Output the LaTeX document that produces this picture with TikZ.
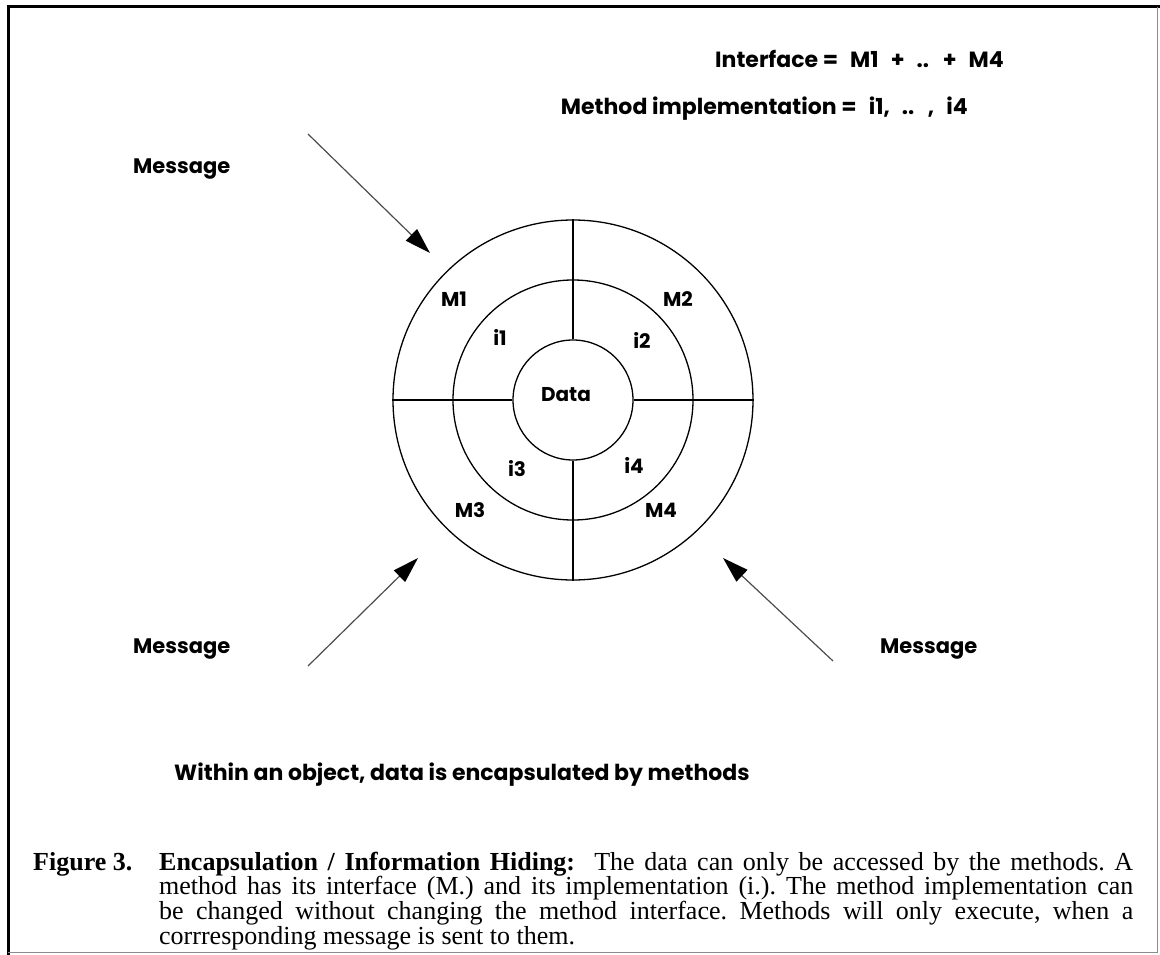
\documentclass[tikz,border=0pt]{standalone}
\usepackage{fontspec}
\setmainfont{Liberation Serif}
\newfontfamily\plotfont{Poppins}
\newcommand\widespaces{\spaceskip=0.55em\relax}
\usetikzlibrary{arrows.meta}
\tikzset{
  ring/.style={draw, circle, inner sep=0pt, line width=1.3pt},
  spoke/.style={line width=1.3pt},
  msgarrow/.style={draw=black!70, line width=1.2pt,
    -{Triangle[length=26pt,width=16pt,color=black]}},
  lbl/.style={font=\plotfont\bfseries\fontsize{21}{24}\selectfont, inner sep=0pt},
  legend/.style={font=\plotfont\bfseries\fontsize{22}{24}\selectfont, inner sep=0pt},
  seg/.style={font=\plotfont\bfseries\fontsize{20}{22}\selectfont, inner sep=0pt, anchor=base},
  captext/.style={inner sep=0pt, font=\fontsize{26}{24.8}\selectfont\frenchspacing},
}
\begin{document}
\begin{tikzpicture}[x=1pt,y=-1pt]
  \useasboundingbox (0,0) rectangle (1160,955);
  % page frame
  \draw[line width=3pt] (8,955) -- (8,7) -- (1160,7);
  \draw[black!45, line width=1pt] (1157,7) -- (1157,952) -- (8,952);

  % object: data, implementations, interfaces
  \node[ring, minimum size=360pt] (outer) at (573,400) {};
  \node[ring, minimum size=240pt] (middle) at (573,400) {};
  \node[ring, minimum size=120pt] (inner) at (573,400) {};
  \draw[spoke] (inner.north) -- (outer.north);
  \draw[spoke] (inner.south) -- (outer.south);
  \draw[spoke] (inner.west) -- (outer.west);
  \draw[spoke] (inner.east) -- (outer.east);

  \node[seg] (data) at (566,401) {Data};
  \node[seg] (m1) at (454,306) {M1};
  \node[seg] (m2) at (678,306) {M2};
  \node[seg] (i1) at (500,345) {i1};
  \node[seg] (i2) at (642,348) {i2};
  \node[seg] (i3) at (517,476) {i3};
  \node[seg] (i4) at (634,473) {i4};
  \node[seg] (m3) at (470,517) {M3};
  \node[seg] (m4) at (661,517) {M4};

  % legend
  \node[legend, anchor=base west] (iface) at (715,68) {Interface {\widespaces = M1 + .. + M4}};
  \node[legend, anchor=base east] (impl) at (968,115) {Method implementation {\widespaces = i1, .. , i4}};

  % incoming messages
  \node[lbl, anchor=base west] (msgA) at (133,174) {Message};
  \node[lbl, anchor=base west] (msgB) at (133,653) {Message};
  \node[lbl, anchor=base west] (msgC) at (880,653) {Message};
  \coordinate (a0) at (308,134);
  \coordinate (a1) at (430,253);
  \coordinate (b0) at (308,666);
  \coordinate (b1) at (418,558);
  \coordinate (c0) at (833,661);
  \coordinate (c1) at (723,558);
  \draw[msgarrow] (a0) -- (a1);
  \draw[msgarrow] (b0) -- (b1);
  \draw[msgarrow] (c0) -- (c1);

  \node[lbl, anchor=base west, font=\plotfont\bfseries\fontsize{22}{24}\selectfont]
    (note) at (174,780) {Within an object, data is encapsulated by methods};

  % caption
  \node[captext, anchor=base west] (figno) at (33,870) {\bfseries Figure 3.};
  \node[captext, anchor=base west, text width=974pt, align=justify] (caption) at (159,870)
    {\textbf{Encapsulation / Information Hiding:}\ \ The data can only be accessed by the methods. A\linebreak
     method has its interface (M.) and its implementation (i.). The method implementation can\linebreak
     be changed without changing the method interface. Methods will only execute, when a\linebreak
     corrresponding message is sent to them.};
\end{tikzpicture}
\end{document}
